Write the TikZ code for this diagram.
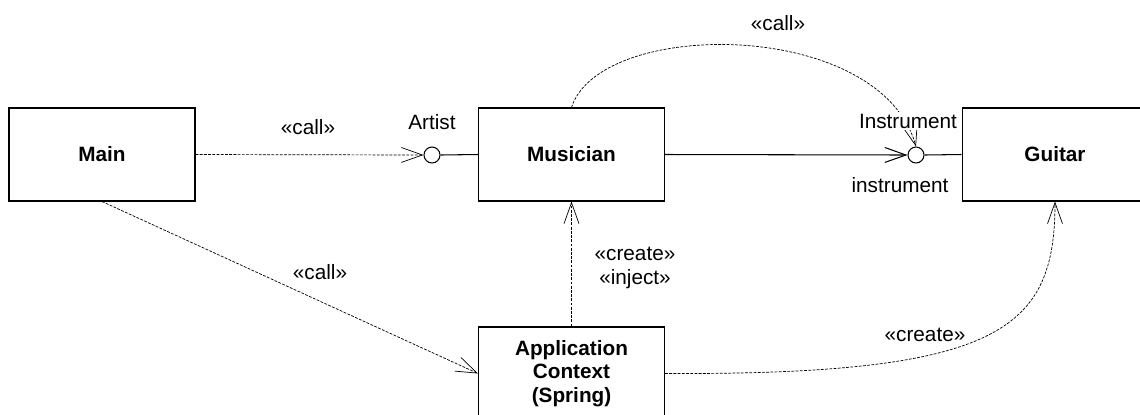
\documentclass[tikz,border=0pt]{standalone}
\usepackage{fontspec}
\setmainfont{Liberation Sans}
\usetikzlibrary{arrows.meta,positioning}

\begin{document}
\begin{tikzpicture}[x=0.02cm,y=-0.02cm,
    comp/.style={rectangle,draw,line width=0.6pt,minimum width=3.72cm,minimum height=1.86cm,
      align=center,font=\fontsize{11.8}{13.5}\selectfont\bfseries},
    port/.style={circle,draw,line width=0.6pt,minimum size=0.32cm,inner sep=0pt},
    lbl/.style={font=\fontsize{11.8}{13.5}\selectfont,align=center,inner sep=1pt},
    dep/.style={dash pattern=on 1.6pt off 0.8pt,line width=0.4pt,-{Straight Barb[length=12pt,width=8.5pt]}},
    req/.style={line width=0.6pt,-{Straight Barb[length=12pt,width=8.5pt]}}]
  \clip (0,0) rectangle (1140,414);
  % components
  \node[comp] (main) at (102,154.5) {Main};
  \node[comp] (musician) at (571.5,154.5) {Musician};
  \node[comp] (guitar) at (1055,154.5) {Guitar};
  \node[comp] (ctx) at (571.5,373.5) {Application\\Context\\(Spring)};
  % provided interfaces
  \node[port] (artist) at (432,155) {};
  \node[port] (instr) at (916,155) {};
  \draw[line width=0.6pt] (artist.east) -- (musician.west);
  \draw[line width=0.6pt] (instr.east) -- (guitar.west);
  % dependencies
  \draw[dep] (main.east) -- (artist.west);
  \draw[req] (musician.east) -- (instr.west);
  \draw[dep] (main.south) -- (ctx.west);
  \draw[dep] (ctx.north) -- (musician.south);
  \draw[dep] (musician.north) .. controls (600,18) and (880,18) .. (instr.north);
  \draw[dep] (ctx.east) .. controls (1000,375) and (1055,330) .. (guitar.south);
  % labels
  \node[lbl] (artistlbl) at (432,122) {Artist};
  \node[lbl,fill=white] (instrlbl) at (908,121) {Instrument};
  \node[lbl] (instrrole) at (900,185) {instrument};
  \node[lbl] (call1) at (308,127) {«call»};
  \node[lbl] (call2) at (320,272) {«call»};
  \node[lbl] (call3) at (778,23) {«call»};
  \node[lbl] (inject) at (635,268) {«create»\\«inject»};
  \node[lbl] (create) at (925,335) {«create»};
\end{tikzpicture}
\end{document}
